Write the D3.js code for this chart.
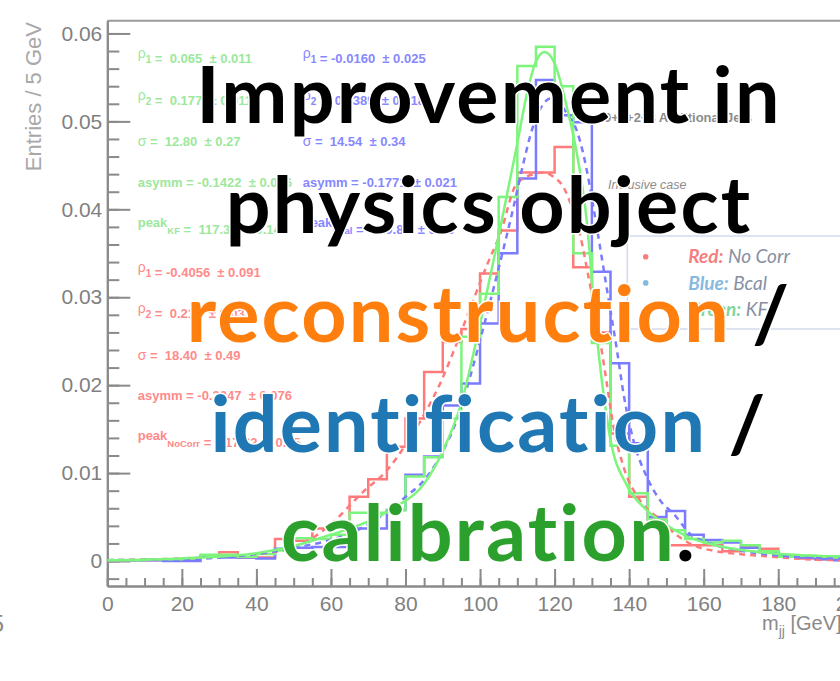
<!DOCTYPE html>
<html lang="en">
<head>
<meta charset="UTF-8">
<title>Improvement in physics object reconstruction / identification / calibration</title>
<script src="https://d3js.org/d3.v7.min.js"></script>
<style>
  body { margin: 0; background: #fff; }
  svg { display: block; }
  .axis text { font-family: "Liberation Sans", Arial, sans-serif; font-size: 21px; fill: #808080; }
  .axis path, .axis line { stroke: #8a8a8a; stroke-width: 2px; }
  .stat { font-family: "Liberation Sans", Arial, sans-serif; font-size: 13px; font-weight: bold; white-space: pre; }
  .big { font-family: "Lato", sans-serif; font-weight: 700; font-size: 79px; letter-spacing: 2.2px;
         font-variant-ligatures: none; font-feature-settings: "liga" 0, "clig" 0;
         paint-order: stroke; stroke: #fff; stroke-width: 3px; }
</style>
</head>
<body>
<div id="chart"></div>
<script>
// histogram binning (m_jj, GeV)
const binLow = 0, binWidth = 5;

// bin contents, 40 bins of 5 GeV
const histNoCorr = [0.0001, 0.0001, 0.0001, 0.0001, 0.0002, 0.0005, 0.0010, 0.0004, 0.0004, 0.0025,
  0.0023, 0.0037, 0.0040, 0.0073, 0.0093, 0.0130, 0.0162, 0.0215, 0.0249, 0.0264,
  0.0327, 0.0376, 0.0442, 0.0442, 0.0471, 0.0334, 0.0260, 0.0145, 0.0073, 0.0047,
  0.0018, 0.0018, 0.0018, 0.0011, 0.0016, 0.0014, 0.0005, 0.0003, 0.0002, 0.0002];
const histBcal = [0.0001, 0.0001, 0.0001, 0.0000, 0.0000, 0.0005, 0.0004, 0.0004, 0.0003, 0.0014,
  0.0015, 0.0016, 0.0016, 0.0037, 0.0037, 0.0058, 0.0098, 0.0119, 0.0177, 0.0202,
  0.0270, 0.0350, 0.0435, 0.0547, 0.0507, 0.0499, 0.0329, 0.0225, 0.0134, 0.0050,
  0.0057, 0.0030, 0.0024, 0.0021, 0.0015, 0.0010, 0.0006, 0.0004, 0.0002, 0.0001];
const histKF = [0.0001, 0.0001, 0.0002, 0.0002, 0.0003, 0.0007, 0.0007, 0.0005, 0.0008, 0.0012,
  0.0026, 0.0025, 0.0030, 0.0055, 0.0055, 0.0058, 0.0096, 0.0118, 0.0162, 0.0255,
  0.0304, 0.0414, 0.0563, 0.0585, 0.0540, 0.0350, 0.0248, 0.0131, 0.0077, 0.0047,
  0.0035, 0.0025, 0.0021, 0.0023, 0.0018, 0.0011, 0.0005, 0.0006, 0.0005, 0.0004];

// fitted curves
const fitNoCorrM = [0, 20, 40, 50, 55, 60, 68.7, 75, 80.3, 85.7, 89.3, 93.7, 98.2, 102, 105.4, 109.8, 114.3, 117, 119.7,
  122.4, 124.6, 126.8, 128.6, 132.2, 134, 135.8, 138.5, 142.9, 148.3, 152.3, 160, 178, 196, 200];
const fitNoCorrV = [0.0001, 0.0003, 0.0008, 0.0016, 0.0026, 0.0042, 0.0079, 0.0103, 0.0134, 0.0172, 0.0202, 0.0247, 0.0297, 0.0338, 0.0372, 0.0429, 0.0440, 0.0442, 0.0437,
  0.0425, 0.0403, 0.0372, 0.0334, 0.0251, 0.0202, 0.0153, 0.0107, 0.0069, 0.0047, 0.0031, 0.0014, 0.0005, 0.0001, 0.0001];

const fitBcalM = [0, 20, 40, 50, 60, 65, 73, 80, 85, 89.3, 93.7, 97.3, 100.5, 105.4, 109, 111.6, 113.9, 117, 118.8, 121,
  123.3, 125.9, 127.7, 129.5, 131.3, 134, 136.9, 138.5, 141.1, 144.7, 148.3, 152.3, 156.3, 161.7, 169, 178, 196, 200];
const fitBcalV = [0.0001, 0.0002, 0.0008, 0.0015, 0.0024, 0.0031, 0.0050, 0.0073, 0.0092, 0.0119, 0.0160, 0.0209, 0.0259, 0.0340, 0.0403, 0.0452, 0.0490, 0.0520, 0.0526, 0.0522,
  0.0509, 0.0490, 0.0463, 0.0425, 0.0380, 0.0310, 0.0235, 0.0190, 0.0138, 0.0096, 0.0069, 0.0052, 0.0031, 0.0020, 0.00125, 0.0007, 0.0003, 0.0003];

const fitKFM = [0, 20, 40, 50, 60, 70, 77.5, 85, 90, 95, 100, 105, 110, 112.5, 115, 117.3, 120, 123.3, 126, 128.6,
  131, 135, 139.4, 144.7, 150, 155.5, 164, 173, 185, 200];
const fitKFV = [0.0001, 0.0003, 0.0009, 0.0017, 0.0030, 0.0045, 0.0062, 0.0088, 0.0125, 0.0180, 0.0270, 0.0370, 0.0475, 0.0530, 0.0568, 0.0579, 0.0566, 0.0516, 0.0463, 0.0388,
  0.0270, 0.0138, 0.0086, 0.0058, 0.0041, 0.0028, 0.0017, 0.0011, 0.0007, 0.0005];

const yTicks = [0, 0.01, 0.02, 0.03, 0.04, 0.05, 0.06];
const xTicks = [0, 20, 40, 60, 80, 100, 120, 140, 160, 180, 200];

// fit parameters printed on the plot: [name, subscript, value, error]
const statsKF = [["ρ", "1", "0.065", "0.011"], ["ρ", "2", "0.177", "0.011"], ["σ", "", "12.80", "0.27"],
  ["asymm", "", "-0.1422", "0.016"], ["peak", "KF", "117.35", "0.14"]];
const statsBcal = [["ρ", "1", "-0.0160", "0.025"], ["ρ", "2", "0.0389", "0.018"], ["σ", "", "14.54", "0.34"],
  ["asymm", "", "-0.1771", "0.021"], ["peak", "Bcal", "120.85", "0.58"]];
const statsNoCorr = [["ρ", "1", "-0.4056", "0.091"], ["ρ", "2", "0.211", "0.033"], ["σ", "", "18.40", "0.49"],
  ["asymm", "", "-0.3047", "0.076"], ["peak", "NoCorr", "117.62", "0.75"]];

const legendKeys = ["Red:", "Blue:", "Green:"];
const legendNames = ["No Corr", "Bcal", "KF"];

const W = 840, H = 681;
const svg = d3.select("#chart").append("svg")
  .attr("width", W).attr("height", H);

const x = d3.scaleLinear().domain([0, 200]).range([107.3, 852.8]);
const y = d3.scaleLinear().domain([-0.00284, 0.06145]).range([586, 20.7]);

// frame top
svg.append("line")
  .attr("x1", x(0)).attr("x2", W).attr("y1", y.range()[1]).attr("y2", y.range()[1])
  .attr("stroke", "#9a9a9a").attr("stroke-width", 2);

// minor ticks
svg.append("g").attr("class", "axis")
  .attr("transform", `translate(${x(0)},0)`)
  .call(d3.axisLeft(y).tickValues(d3.range(-0.002, 0.0605, 0.002)).tickSize(-12).tickSizeOuter(0).tickFormat(""));
svg.append("g").attr("class", "axis")
  .attr("transform", `translate(0,${y.range()[0]})`)
  .call(d3.axisBottom(x).tickValues(d3.range(0, 201, 5)).tickSize(-8).tickSizeOuter(0).tickFormat(""));

// major ticks with labels
svg.append("g").attr("class", "axis")
  .attr("transform", `translate(${x(0)},0)`)
  .call(d3.axisLeft(y).tickValues(yTicks).tickSize(-23).tickSizeOuter(0).tickPadding(5)
    .tickFormat(d => d === 0 ? "0" : d3.format(".2f")(d)));
svg.append("g").attr("class", "axis")
  .attr("transform", `translate(0,${y.range()[0]})`)
  .call(d3.axisBottom(x).tickValues(xTicks).tickSize(-17).tickSizeOuter(0).tickPadding(10));

// axis titles
svg.append("text")
  .attr("transform", "translate(41,22) rotate(-90)")
  .attr("text-anchor", "end")
  .style("font-family", "Liberation Sans, Arial, sans-serif")
  .style("font-size", "22px").attr("fill", "#a8a8a8")
  .text("Entries / 5 GeV");

const xt = svg.append("text")
  .attr("x", 762).attr("y", 630)
  .style("font-family", "Liberation Sans, Arial, sans-serif")
  .style("font-size", "20px").attr("fill", "#8a8a8a");
xt.append("tspan").text("m");
xt.append("tspan").attr("dy", 6).style("font-size", "14px").text("jj");
xt.append("tspan").attr("dy", -6).text(" [GeV]");

svg.append("text")
  .attr("x", 4).attr("y", 632).attr("text-anchor", "end")
  .style("font-family", "Liberation Sans, Arial, sans-serif")
  .style("font-size", "24px").attr("fill", "#8a8a8a")
  .text("5");

// fit parameter blocks
const statOffsets = [0, 41.3, 88, 128.7, 168.7];
function drawStats(rows, x0, y0, color) {
  rows.forEach((r, i) => {
    const t = svg.append("text").attr("class", "stat")
      .attr("x", x0).attr("y", y0 + statOffsets[i]).attr("fill", color);
    const greek = r[0] === "ρ" || r[0] === "σ";
    t.append("tspan").style("font-weight", greek ? "normal" : "bold")
      .style("font-size", greek ? "14px" : "13px").text(r[0]);
    if (r[1]) {
      t.append("tspan").attr("dy", greek ? 5 : 7)
        .style("font-size", greek ? "10px" : "9.5px").text(r[1]);
      t.append("tspan").attr("dy", greek ? -5 : -7).text("");
    }
    const neg = r[2].startsWith("-");
    t.append("tspan").text(" = " + (neg ? "" : " ") + r[2] + "  ± " + r[3]);
  });
}
drawStats(statsKF, 137.7, 58.3, "#9ce89c");
drawStats(statsBcal, 302.7, 58.3, "#8787ff");
drawStats(statsNoCorr, 137.7, 271.7, "#ff8a8a");

// plot area clip
svg.append("clipPath").attr("id", "frame")
  .append("rect").attr("x", x(0)).attr("y", y.range()[1])
  .attr("width", W - x(0)).attr("height", y.range()[0] - y.range()[1]);
const plot = svg.append("g").attr("clip-path", "url(#frame)");

const stepLine = d3.line().x(d => x(d[0])).y(d => y(d[1])).curve(d3.curveStepAfter);
const fitLine = d3.line().x(d => x(d[0])).y(d => y(d[1])).curve(d3.curveMonotoneX);

function histPoints(vals) {
  const pts = vals.map((v, i) => [binLow + i * binWidth, v]);
  pts.push([binLow + vals.length * binWidth, vals[vals.length - 1]]);
  return pts;
}

const series = [
  { hist: histNoCorr, fm: fitNoCorrM, fv: fitNoCorrV, color: "#ff7b7b", dash: "6,5" },
  { hist: histBcal, fm: fitBcalM, fv: fitBcalV, color: "#7b7bff", dash: "6,5" },
  { hist: histKF, fm: fitKFM, fv: fitKFV, color: "#7df57d", dash: null }
];
series.forEach(s => {
  plot.append("path").datum(histPoints(s.hist))
    .attr("d", stepLine).attr("fill", "none")
    .attr("stroke", s.color).attr("stroke-width", 2.5);
});
series.forEach(s => {
  plot.append("path").datum(s.fm.map((m, i) => [m, s.fv[i]]))
    .attr("d", fitLine).attr("fill", "none")
    .attr("stroke", s.color).attr("stroke-width", 2.5)
    .attr("stroke-dasharray", s.dash);
});

// histogram labels
svg.append("text")
  .attr("x", 604).attr("y", 121.7)
  .style("font-family", "Liberation Sans, Arial, sans-serif")
  .style("font-size", "13px").style("font-weight", "bold")
  .attr("fill", "#8c8c8c")
  .text("0+1+2+3 Additional Jets");
svg.append("text")
  .attr("x", 608).attr("y", 189.3)
  .style("font-family", "Liberation Sans, Arial, sans-serif")
  .style("font-size", "12.5px").style("font-style", "italic")
  .attr("fill", "#8c8c8c")
  .text("Inclusive case");

// colour legend box
svg.append("rect")
  .attr("x", 627.3).attr("y", 236).attr("width", 240).attr("height", 93)
  .attr("fill", "#fff").attr("stroke", "#d3dbea").attr("stroke-width", 1.5);
const keyColors = ["#f47f7f", "#86b9e0", "#80d6a0"];
legendKeys.forEach((k, i) => {
  const yy = 256.7 + i * 26.2;
  svg.append("circle").attr("cx", 645.7).attr("cy", yy).attr("r", 2.8).attr("fill", keyColors[i]);
  const t = svg.append("text").attr("x", 688.3).attr("y", yy + 6.6)
    .style("font-family", "Lato, sans-serif").style("font-size", "19px").style("font-style", "italic");
  t.append("tspan").style("font-weight", "bold").attr("fill", keyColors[i]).text(k);
  t.append("tspan").attr("fill", "#8790a2").text(" " + legendNames[i]);
});

// overlay title
const bigLines = [
  [["Improvement in", "#000"]],
  [["physics object", "#000"]],
  [["reconstruction", "#ff7f0e"], [" /", "#000"]],
  [["identification", "#1f77b4"], [" /", "#000"]],
  [["calibration", "#2ca02c"], [".", "#000"]]
];
bigLines.forEach((parts, i) => {
  const t = svg.append("text").attr("class", "big")
    .attr("x", 489).attr("y", 123 + i * 109.5).attr("text-anchor", "middle");
  parts.forEach(p => t.append("tspan").attr("fill", p[1]).text(p[0]));
});
</script>
</body>
</html>
